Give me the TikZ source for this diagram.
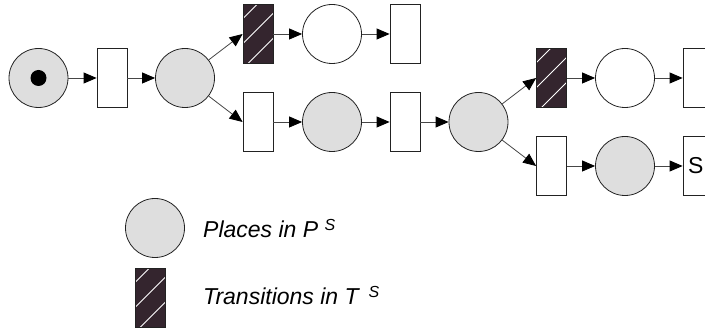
\documentclass[tikz,border=0pt]{standalone}
\usepackage{fontspec}
\setmainfont{Liberation Sans}
\usetikzlibrary{arrows.meta}
\definecolor{darkfill}{RGB}{52,37,46}
\definecolor{placefill}{RGB}{222,222,222}
\definecolor{edgecol}{RGB}{34,34,34}
\definecolor{conncol}{RGB}{70,70,70}
\tikzset{
  place/.style={circle, draw=edgecol, fill=placefill, line width=0.8pt, minimum size=59pt, inner sep=0pt},
  wplace/.style={place, fill=white},
  trans/.style={rectangle, draw=edgecol, fill=white, line width=0.8pt, minimum width=30pt, minimum height=59pt, inner sep=0pt},
  dtrans/.style={trans, fill=darkfill, path picture={
      \draw[white, line width=0.8pt] (path picture bounding box.north west) ++(0,14) -- ++(14,-14);
      \draw[white, line width=0.8pt] (path picture bounding box.north west) ++(0,39) -- ++(39,-39);
      \draw[white, line width=0.8pt] (path picture bounding box.north west) ++(0,64) -- ++(64,-64);
  }},
  arc/.style={draw=conncol, line width=0.8pt, -{Triangle[length=13pt,width=11pt,color=black]}},
  token/.style={circle, fill=black, minimum size=16pt, inner sep=0pt},
  legtext/.style={anchor=base west, inner sep=0pt, font=\fontsize{23}{27}\selectfont\itshape}
}
\newcommand{\supS}{\raisebox{7pt}{\fontsize{16}{18}\selectfont S}}
\begin{document}
\begin{tikzpicture}[x=1pt,y=-1pt]
\useasboundingbox (0,0) rectangle (705,328);
\clip (0,0) rectangle (705,328);
% net
\node[place] (p1) at (38.5,78) {};
\node[token] (tok) at (38.5,78) {};
\node[trans] (t1) at (112,78) {};
\node[place] (p2) at (185,78) {};
\node[dtrans] (tA) at (258,34) {};
\node[wplace] (pA) at (332,34) {};
\node[trans] (tA2) at (405,34) {};
\node[trans] (tB) at (258,122) {};
\node[place] (pB) at (332,122) {};
\node[trans] (tB2) at (405,122) {};
\node[place] (p3) at (478.5,122) {};
\node[dtrans] (tC) at (551.5,78) {};
\node[wplace] (pC) at (625,78) {};
\node[trans] (tC2) at (698,78) {};
\node[trans] (tD) at (551.5,166) {};
\node[place] (pD) at (625,166) {};
\node[trans, text width=20pt, inner xsep=5pt, align=left, font=\fontsize{23}{27}\selectfont] (tD2) at (698,166) {S};
% connectors
\draw[arc] (p1) -- (t1);
\draw[arc] (t1) -- (p2);
\draw[arc] (p2) -- (tA.west);
\draw[arc] (p2) -- (tB.west);
\draw[arc] (tA) -- (pA);
\draw[arc] (pA) -- (tA2);
\draw[arc] (tB) -- (pB);
\draw[arc] (pB) -- (tB2);
\draw[arc] (tB2) -- (p3);
\draw[arc] (p3) -- (tC.west);
\draw[arc] (p3) -- (tD.west);
\draw[arc] (tC) -- (pC);
\draw[arc] (pC) -- (tC2);
\draw[arc] (tD) -- (pD);
\draw[arc] (pD) -- (tD2);
% legend
\node[place] (lp) at (155,228) {};
\node[dtrans] (lt) at (150.5,297.5) {};
\node[legtext] (lpt) at (203,237.5) {Places in P \supS};
\node[legtext] (ltt) at (203,305) {Transitions in T\hspace{10pt}\supS};
\end{tikzpicture}
\end{document}
